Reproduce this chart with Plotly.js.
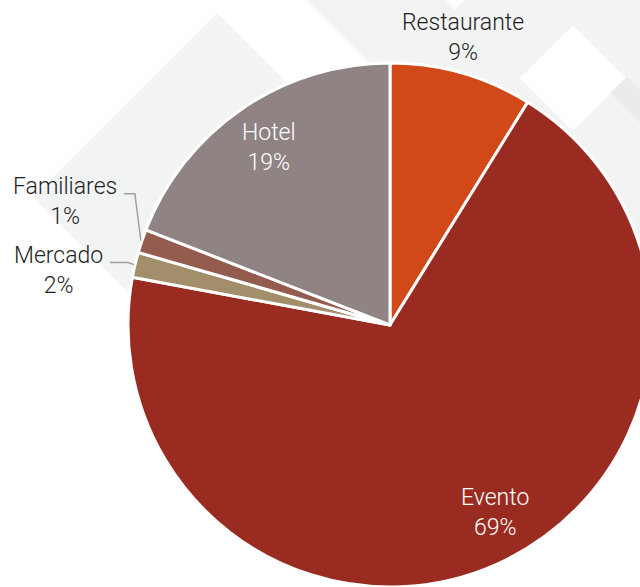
<!DOCTYPE html>
<html>
<head>
<meta charset="utf-8">
<script src="https://cdn.plot.ly/plotly-3.0.1.min.js"></script>
<style>
  html, body { margin: 0; padding: 0; overflow: hidden; background: #ffffff; }
  #chart { width: 660px; height: 600px; }
</style>
</head>
<body>
<div id="chart"></div>
<script>
// ---- data ----
const categories = ["Restaurante", "Evento", "Mercado", "Familiares", "Hotel"];
const values = [8.8, 69.05, 1.55, 1.45, 19.07];

// ---- style ----
const sliceColors = ["#D14918", "#9A2B20", "#A38E6B", "#945C4E", "#8F8483"];
const FONT = "Roboto";
const FSIZE = 23;
const DARK = "#1E1E1E";
const LEADER = "#A0A0A0";
// label placement style per slice: kind, radial fraction, angle nudge (deg), offsets
const labelStyle = [
  { kind: "above", gap: 5 },
  { kind: "inside", rf: 0.82, nudge: -5.5 },
  { kind: "leader", dx: -26, dy: -2, elbow: 6 },
  { kind: "leader", dx: -19, dy: -47, elbow: 6 },
  { kind: "inside", rf: 0.82, nudge: 0 }
];

// ---- geometry helpers ----
const W = 660, H = 600;
const cx = 390, cy = 325, R = 262;
const px = x => x / W;
const py = y => 1 - y / H;
function poly(pts, close) {
  return pts.map((p, i) => (i ? "L" : "M") + px(p[0]).toFixed(5) + "," + py(p[1]).toFixed(5)).join(" ") + (close ? " Z" : "");
}
function bgShape(pts, color) {
  return { type: "path", xref: "paper", yref: "paper", layer: "below",
           path: poly(pts, true), fillcolor: color, line: { width: 0 } };
}
const LIGHT = "#F2F3F3";
const shapes = [
  bgShape([[217, 13], [401, 197], [217, 381], [33, 197]], LIGHT),
  bgShape([[307, 0], [W, 0], [W, W - 307]], LIGHT),
  bgShape([[455, -110], [515, -50], [455, 10], [395, -50]], "#FFFFFF"),
  bgShape([[573, 25], [626, 78], [573, 131], [520, 78]], "#FFFFFF"),
  bgShape([[610, 93], [627, 77], [W, 110], [643, 126]], "#EBEBEB")
];

// ---- labels derived from the data ----
const total = values.reduce((a, b) => a + b, 0);
const annotations = [];
let cum = 0;
values.forEach((v, i) => {
  const mid = (cum + v / 2) / total * 360;   // clockwise from 12 o'clock
  cum += v;
  const st = labelStyle[i];
  const pct = Math.round(v / total * 100) + "%";
  const text = categories[i] + "<br>" + pct;
  const pt = (r, a) => [cx + r * Math.sin(a * Math.PI / 180), cy - r * Math.cos(a * Math.PI / 180)];
  if (st.kind === "inside") {
    const p = pt(R * st.rf, mid + st.nudge);
    annotations.push({ xref: "paper", yref: "paper", x: px(p[0]), y: py(p[1]),
      xanchor: "center", yanchor: "middle", text: text, showarrow: false,
      font: { family: FONT, size: FSIZE, color: "#FFFFFF", weight: 300 } });
  } else if (st.kind === "above") {
    const p = pt(R, mid);
    annotations.push({ xref: "paper", yref: "paper", x: px(p[0] + 1), y: py(p[1] - st.gap),
      xanchor: "center", yanchor: "bottom", text: text, showarrow: false,
      font: { family: FONT, size: FSIZE, color: DARK, weight: 300 } });
  } else {
    const p = pt(R + 1, mid);
    const bx = p[0] + st.dx, by = p[1] + st.dy;   // baseline of first line, right end of text
    annotations.push({ xref: "paper", yref: "paper", x: px(bx - 3), y: py(by + 8),
      xanchor: "right", yanchor: "middle", text: text, showarrow: false,
      font: { family: FONT, size: FSIZE, color: DARK, weight: 300 } });
    shapes.push({ type: "path", xref: "paper", yref: "paper", layer: "above",
      path: poly([[bx + 2, by], [p[0] - st.elbow, by], p], false),
      line: { color: LEADER, width: 1.5 } });
  }
});

const trace = {
  type: "pie",
  labels: categories,
  values: values,
  sort: false,
  direction: "clockwise",
  rotation: 0,
  marker: { colors: sliceColors, line: { color: "#FFFFFF", width: 3 } },
  textinfo: "none",
  domain: { x: [(cx - R) / W, (cx + R) / W], y: [(H - cy - R) / H, (H - cy + R) / H] },
  hoverinfo: "none",
  showlegend: false
};

const layout = {
  width: W, height: H,
  margin: { l: 0, r: 0, t: 0, b: 0 },
  paper_bgcolor: "#FFFFFF",
  font: { family: FONT, size: FSIZE, color: DARK },
  showlegend: false,
  shapes: shapes,
  annotations: annotations
};

Plotly.newPlot("chart", [trace], layout, { displayModeBar: false, staticPlot: true });
</script>
</body>
</html>
